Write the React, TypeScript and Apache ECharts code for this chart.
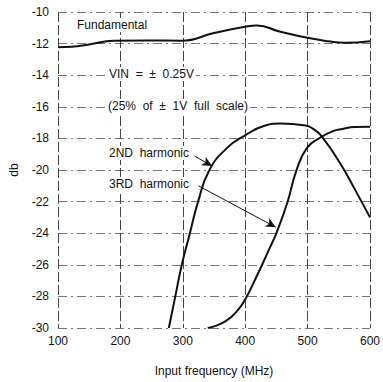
import React, { useEffect, useRef } from "react";
import * as echarts from "echarts";

const xTicks = [100, 200, 300, 400, 500, 600];
const yTicks = [-30, -28, -26, -24, -22, -20, -18, -16, -14, -12, -10];

const fundamental: [number, number][] = [
  [100, -12.23], [122, -12.2], [150, -12.05], [189, -11.82], [240, -11.8],
  [298, -11.82], [350, -11.33], [402, -10.92], [419, -10.86], [455, -11.23],
  [502, -11.65], [533, -11.85], [559, -11.95], [600, -11.85],
];

const harmonic2: [number, number][] = [
  [277.6, -30], [288, -28], [298.4, -26], [311.4, -24], [324.5, -22],
  [342.7, -20], [371, -18.6], [398, -17.85], [431, -17.2], [457, -17.06],
  [494, -17.17], [509, -17.4], [525, -18], [553.6, -19.67], [574, -21.1],
  [600, -23],
];

const harmonic3: [number, number][] = [
  [340, -30], [368.75, -29.56], [389.6, -28.8], [402.6, -28], [415.6, -26.96],
  [428, -25.92], [439, -24.96], [449.5, -24.04], [467.6, -22.06],
  [482, -20.04], [499, -18.6], [520, -17.96], [540.6, -17.54], [556, -17.4],
  [575, -17.28], [600, -17.27],
];

const arrow2: [number, number][] = [[319, -19.12], [347, -19.75]];
const arrow3: [number, number][] = [[325, -21.0], [449, -23.62]];

const annotations = [
  { text: "Fundamental", x: 75, y: 27 },
  { text: "VIN  =  ±  0.25V", x: 107, y: 76 },
  { text: "(25%  of  ±  1V  full  scale)", x: 106, y: 108 },
  { text: "2ND  harmonic", x: 107, y: 155 },
  { text: "3RD  harmonic", x: 107, y: 186 },
];

const FONT = "Liberation Sans, Arial, Helvetica, sans-serif";

export default function App() {
  const ref = useRef<HTMLDivElement>(null);
  useEffect(() => {
    const chart = echarts.init(ref.current!, null, { renderer: "svg" });
    const lineSeries = (data: [number, number][]) => ({
      type: "line",
      data,
      smooth: 0.5,
      showSymbol: false,
      lineStyle: { color: "#111", width: 2 },
      z: 3,
    });
    const arrowLine = (pts: [number, number][]) => ({
      type: "line",
      data: [],
      markLine: {
        silent: true,
        symbol: ["none", "arrow"],
        symbolSize: [7, 10],
        lineStyle: { color: "#111", width: 1, type: "solid" },
        label: { show: false },
        data: [[{ coord: pts[0] }, { coord: pts[1] }]],
      },
    });
    chart.setOption({
      animation: false,
      backgroundColor: "#fff",
      grid: { left: 53, right: 10, top: 12, bottom: 49 },
      xAxis: {
        type: "value",
        min: xTicks[0],
        max: xTicks[xTicks.length - 1],
        interval: 100,
        name: "Input frequency (MHz)",
        nameLocation: "middle",
        nameGap: 37,
        nameTextStyle: { color: "#111", fontSize: 12, fontFamily: FONT },
        axisLine: { show: false },
        axisTick: { show: false },
        axisLabel: { color: "#111", fontSize: 12, fontFamily: FONT, margin: 7 },
        splitLine: {
          show: true,
          lineStyle: { color: "#444", width: 1, type: [10, 3] },
        },
      },
      yAxis: {
        type: "value",
        min: yTicks[0],
        max: yTicks[yTicks.length - 1],
        interval: 2,
        name: "db",
        nameLocation: "middle",
        nameGap: 38,
        nameRotate: 90,
        nameTextStyle: { color: "#111", fontSize: 12, fontFamily: FONT },
        axisLine: { show: false },
        axisTick: { show: false },
        axisLabel: { color: "#111", fontSize: 12, fontFamily: FONT, margin: 9 },
        splitLine: {
          show: true,
          lineStyle: { color: "#777", width: 1, type: [9, 4, 2, 4] },
        },
      },
      series: [
        lineSeries(fundamental),
        lineSeries(harmonic2),
        lineSeries(harmonic3),
        arrowLine(arrow2),
        arrowLine(arrow3),
      ],
      graphic: annotations.map((a) => ({
        type: "text",
        left: a.x,
        top: a.y - 9,
        z: 10,
        style: {
          text: a.text,
          fill: "#111",
          font: `12px ${FONT}`,
          backgroundColor: "#fff",
          padding: [1, 2],
        },
      })),
    });
    return () => chart.dispose();
  }, []);
  return (
    <div
      ref={ref}
      style={{ position: "fixed", left: 0, top: 0, width: 383, height: 382 }}
    />
  );
}
